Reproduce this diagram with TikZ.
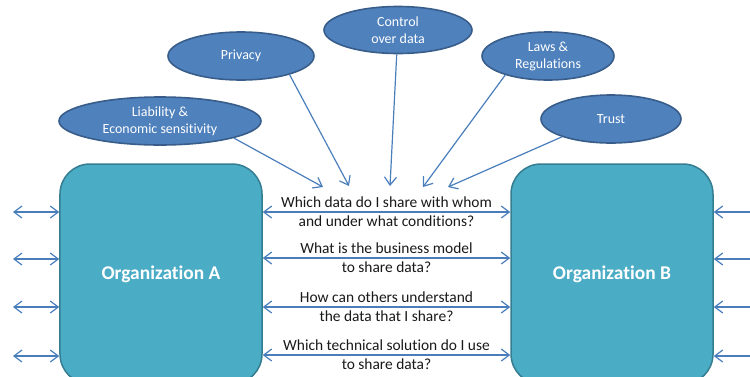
\documentclass[tikz,border=0pt]{standalone}
\usepackage{fontspec}
\setmainfont{Carlito}[Ligatures={NoCommon}]
\usetikzlibrary{shapes.geometric,arrows.meta}
\definecolor{ellfill}{HTML}{4F81BD}
\definecolor{elldraw}{HTML}{385D8A}
\definecolor{boxfill}{HTML}{4BACC6}
\definecolor{boxdraw}{HTML}{357D91}
\definecolor{arrcol}{HTML}{4A7EBB}
\begin{document}
\begin{tikzpicture}[x=1bp,y=-1bp,
  topic/.style={ellipse, fill=ellfill, draw=elldraw, line width=1.6bp, text=white,
    inner sep=0pt, align=center, font=\fontsize{14}{17}\selectfont},
  org/.style={rectangle, rounded corners=30bp, fill=boxfill, draw=boxdraw, line width=1.5bp,
    text=white, minimum width=202bp, minimum height=220bp, font=\bfseries\fontsize{19.5}{23}\selectfont},
  quest/.style={align=center, text=black!90, font=\fontsize{15.5}{19}\selectfont, inner sep=0pt},
  tip/.tip={Straight Barb[length=8bp,width=12bp]},
  arr/.style={draw=arrcol, line width=1.2bp, -tip},
  biarr/.style={draw=arrcol, line width=1.2bp, tip-tip}]
\useasboundingbox (0,0) rectangle (750,376);
\clip (0,0) rectangle (750,376);
% organizations
\node[org] (A) at (161,274) {Organization A};
\node[org] (B) at (612,274) {Organization B};
% topics
\node[topic, minimum width=202bp, minimum height=48bp] (liab) at (160,121) {Liability \&\\Economic sensitivity};
\node[topic, minimum width=146bp, minimum height=48bp] (priv) at (241,56) {Privacy};
\node[topic, minimum width=148bp, minimum height=47bp] (ctrl) at (398,30) {Control\\over data};
\node[topic, minimum width=132bp, minimum height=48bp] (laws) at (548,56) {Laws \&\\Regulations};
\node[topic, minimum width=140bp, minimum height=48bp] (trust) at (611,119) {Trust};
% questions
\node[quest] (q1) at (386.5,212) {Which data do I share with whom\\and under what conditions?};
\node[quest] (q2) at (386.5,258) {What is the business model\\to share data?};
\node[quest] (q3) at (386.5,307) {How can others understand\\the data that I share?};
\node[quest] (q4) at (386.5,355) {Which technical solution do I use\\to share data?};
% topic connectors
\coordinate (t1) at (323,187);
\coordinate (t2) at (349,186);
\coordinate (t3) at (390,186);
\coordinate (t4) at (423,187);
\coordinate (t5) at (448,187);
\draw[arr] (liab.-13) -- (t1);
\draw[arr] (priv.-21) -- (t2);
\draw[arr] (ctrl.-93) -- (t3);
\draw[arr] (laws.-156) -- (t4);
\draw[arr] (trust.-160) -- (t5);
% central arrows
\draw[biarr] (q1 -| A.east) -- (q1 -| B.west);
\draw[biarr] (q2 -| A.east) -- (q2 -| B.west);
\draw[biarr] (q3 -| A.east) -- (q3 -| B.west);
\draw[biarr] (q4 -| A.east) -- (q4 -| B.west);
% outer arrows
\coordinate (l1) at (13,212);
\coordinate (l2) at (13,259);
\coordinate (l3) at (13,307);
\coordinate (l4) at (13,356);
\coordinate (r1) at (752,212);
\coordinate (r2) at (752,259);
\coordinate (r3) at (752,307);
\coordinate (r4) at (752,356);
\draw[biarr] (l1) -- (l1 -| A.west);
\draw[biarr] (l2) -- (l2 -| A.west);
\draw[biarr] (l3) -- (l3 -| A.west);
\draw[biarr] (l4) -- (l4 -| A.west);
\draw[arr] (r1) -- (r1 -| B.east);
\draw[arr] (r2) -- (r2 -| B.east);
\draw[arr] (r3) -- (r3 -| B.east);
\draw[arr] (r4) -- (r4 -| B.east);
\end{tikzpicture}
\end{document}
